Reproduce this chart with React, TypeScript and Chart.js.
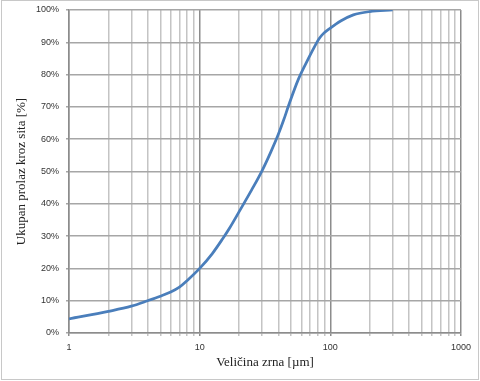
import React, { useEffect, useRef } from "react";
import { Chart, registerables } from "chart.js";

Chart.register(...registerables);

const grainSizes = [1, 2, 3, 4, 5, 6, 7, 8, 10, 12.5, 15, 17, 20, 25, 30, 35, 40, 44, 48, 57, 68, 77, 82, 88, 100, 120, 150, 200, 300];
const passing = [4.4, 6.7, 8.3, 10, 11.4, 12.7, 14.2, 16.2, 20, 24.6, 29.2, 32.6, 37.5, 44.3, 50.2, 56, 61.5, 66, 70.5, 78.6, 85, 89.2, 91.1, 92.6, 94.4, 96.6, 98.5, 99.5, 100];
const xTickValues = [1, 2, 3, 4, 5, 6, 7, 8, 9, 10, 20, 30, 40, 50, 60, 70, 80, 90, 100, 200, 300, 400, 500, 600, 700, 800, 900, 1000];
const xLabelValues = [1, 10, 100, 1000];
const yTitle = "Ukupan prolaz kroz sita [%]";
const xTitle = "Veličina zrna [µm]";

const frame = {
  id: "frame",
  afterDraw(chart: any) {
    const ctx = chart.ctx;
    ctx.save();
    ctx.strokeStyle = "#c8c8c8";
    ctx.lineWidth = 1;
    ctx.strokeRect(1.5, 0.5, 477, 379);
    ctx.restore();
  },
};

export default function App() {
  const ref = useRef<HTMLCanvasElement>(null);
  useEffect(() => {
    document.body.style.margin = "0";
    const chart = new Chart(ref.current!, {
      type: "line",
      data: {
        datasets: [
          {
            data: grainSizes.map((x, i) => ({ x, y: passing[i] })),
            borderColor: "#4a7ebb",
            borderWidth: 2.75,
            pointRadius: 0,
            cubicInterpolationMode: "monotone",
            fill: false,
          },
        ],
      },
      options: {
        responsive: false,
        animation: false,
        layout: { padding: { left: 0, right: 19, top: 10, bottom: 0 } },
        plugins: { legend: { display: false }, tooltip: { enabled: false } },
        scales: {
          x: {
            type: "logarithmic",
            min: 1,
            max: 1000,
            afterBuildTicks(scale: any) {
              scale.ticks = xTickValues.map((v) => ({ value: v }));
            },
            afterFit(scale: any) {
              scale.height = 48;
              scale.paddingLeft = 0;
              scale.paddingRight = 0;
            },
            ticks: {
              autoSkip: false,
              maxRotation: 0,
              padding: 6,
              color: "#333",
              font: { family: "'Liberation Sans', Arial, sans-serif", size: 9 },
              callback: (v: any) => (xLabelValues.includes(Number(v)) ? String(v) : ""),
            },
            grid: {
              color: (c: any) => {
                const v = c.tick ? c.tick.value : 0;
                return xLabelValues.includes(v) ? "#8c8c8c" : "#c4c4c4";
              },
              lineWidth: 1.5,
              tickLength: 3,
            },
            border: { color: "#8c8c8c", width: 1.5 },
            title: {
              display: true,
              text: xTitle,
              color: "#222",
              font: { family: "'Liberation Serif', serif", size: 13 },
              padding: { top: 2, bottom: 11 },
            },
          },
          y: {
            min: 0,
            max: 100,
            afterFit(scale: any) {
              scale.width = 69;
              scale.paddingTop = 0;
              scale.paddingBottom = 0;
            },
            ticks: {
              stepSize: 10,
              padding: 7,
              color: "#333",
              font: { family: "'Liberation Sans', Arial, sans-serif", size: 9 },
              callback: (v: any) => v + "%",
            },
            grid: { color: "#a6a6a6", lineWidth: 1.5, tickLength: 3 },
            border: { color: "#8c8c8c", width: 1.5 },
            title: {
              display: true,
              text: yTitle,
              color: "#222",
              font: { family: "'Liberation Serif', serif", size: 13 },
              padding: { top: 14, bottom: 2 },
            },
          },
        },
      },
      plugins: [frame],
    } as any);
    return () => chart.destroy();
  }, []);
  return <canvas ref={ref} width={480} height={381} style={{ display: "block" }} />;
}
